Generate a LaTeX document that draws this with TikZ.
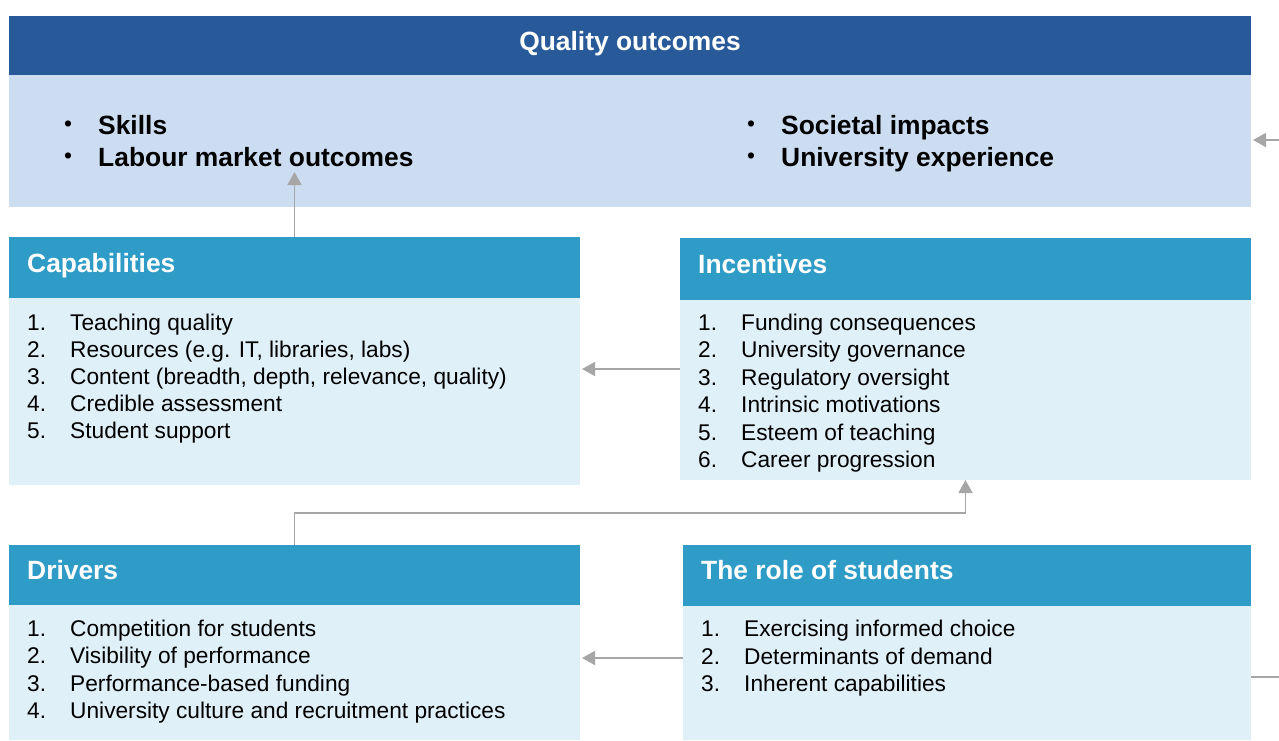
\documentclass[tikz,border=0pt]{standalone}
\usepackage{fontspec}
\setmainfont{Liberation Sans}
\usetikzlibrary{arrows.meta}
\definecolor{dkblue}{HTML}{285A9A}
\definecolor{ltblue}{HTML}{CCDDF2}
\definecolor{teal}{HTML}{2E9CC7}
\definecolor{ltteal}{HTML}{DFF0F8}
\definecolor{arrgray}{HTML}{A6A6A6}
\begin{document}
\begin{tikzpicture}[x=1pt,y=-1pt,
  box/.style={rectangle,inner sep=0pt,outer sep=0pt,anchor=north west,draw=none},
  bigtxt/.style={inner sep=0pt,font=\fontsize{26.4}{30}\selectfont\bfseries,text height=19pt,text depth=5pt,yshift=-2pt},
  hdrtxt/.style={bigtxt,text=white,anchor=west},
  itemtxt/.style={inner sep=0pt,anchor=west,font=\fontsize{22.7}{27}\selectfont,text height=16.3pt,text depth=4.8pt,yshift=-2pt},
  bullettxt/.style={bigtxt,anchor=west,text=black},
  bulletmark/.style={inner sep=0pt,anchor=center,font=\fontsize{22.7}{27}\selectfont,yshift=-1pt},
  arr/.style={draw=arrgray,line width=1.8pt,-{Triangle[length=13pt,width=14pt]}},
  plainline/.style={draw=arrgray,line width=1.8pt}]
\useasboundingbox (0,0) rectangle (1279,740);
% top block
\node[box,fill=dkblue,minimum width=1242pt,minimum height=59pt] (qhead) at (9,16) {};
\node[box,fill=ltblue,minimum width=1242pt,minimum height=132pt] (qbody) at (9,75) {};
\node[bigtxt,text=white] (qtitle) at (630,41) {Quality outcomes};
\node[bulletmark] (b1) at (68,125) {•};
\node[bullettxt] (q1) at (98,125) {Skills};
\node[bulletmark] (b2) at (68,157) {•};
\node[bullettxt] (q2) at (98,157) {Labour market outcomes};
\node[bulletmark] (b3) at (751,125) {•};
\node[bullettxt] (q3) at (781,125) {Societal impacts};
\node[bulletmark] (b4) at (751,157) {•};
\node[bullettxt] (q4) at (781,157) {University experience};
% capabilities
\node[box,fill=teal,minimum width=571pt,minimum height=61pt] (caphead) at (9,237) {};
\node[box,fill=ltteal,minimum width=571pt,minimum height=187pt] (capbody) at (9,298) {};
\node[hdrtxt] (capt) at (27,263) {Capabilities};
\node[itemtxt] (cn1) at (27,323) {1.}; \node[itemtxt] (c1) at (70,323) {Teaching quality};
\node[itemtxt] (cn2) at (27,350) {2.}; \node[itemtxt] (c2) at (70,350) {Resources (e.g. IT, libraries, labs)};
\node[itemtxt] (cn3) at (27,377) {3.}; \node[itemtxt] (c3) at (70,377) {Content (breadth, depth, relevance, quality)};
\node[itemtxt] (cn4) at (27,404) {4.}; \node[itemtxt] (c4) at (70,404) {Credible assessment};
\node[itemtxt] (cn5) at (27,431) {5.}; \node[itemtxt] (c5) at (70,431) {Student support};
% incentives
\node[box,fill=teal,minimum width=571pt,minimum height=62pt] (inchead) at (680,238) {};
\node[box,fill=ltteal,minimum width=571pt,minimum height=180pt] (incbody) at (680,300) {};
\node[hdrtxt] (inct) at (698,264) {Incentives};
\node[itemtxt] (in1) at (698,323) {1.}; \node[itemtxt] (i1) at (741,323) {Funding consequences};
\node[itemtxt] (in2) at (698,350) {2.}; \node[itemtxt] (i2) at (741,350) {University governance};
\node[itemtxt] (in3) at (698,378) {3.}; \node[itemtxt] (i3) at (741,378) {Regulatory oversight};
\node[itemtxt] (in4) at (698,405) {4.}; \node[itemtxt] (i4) at (741,405) {Intrinsic motivations};
\node[itemtxt] (in5) at (698,433) {5.}; \node[itemtxt] (i5) at (741,433) {Esteem of teaching};
\node[itemtxt] (in6) at (698,460) {6.}; \node[itemtxt] (i6) at (741,460) {Career progression};
% drivers
\node[box,fill=teal,minimum width=571pt,minimum height=60pt] (drvhead) at (9,545) {};
\node[box,fill=ltteal,minimum width=571pt,minimum height=135pt] (drvbody) at (9,605) {};
\node[hdrtxt] (drvt) at (27,570) {Drivers};
\node[itemtxt] (dn1) at (27,629) {1.}; \node[itemtxt] (d1) at (70,629) {Competition for students};
\node[itemtxt] (dn2) at (27,656) {2.}; \node[itemtxt] (d2) at (70,656) {Visibility of performance};
\node[itemtxt] (dn3) at (27,684) {3.}; \node[itemtxt] (d3) at (70,684) {Performance-based funding};
\node[itemtxt] (dn4) at (27,711) {4.}; \node[itemtxt] (d4) at (70,711) {University culture and recruitment practices};
% role of students
\node[box,fill=teal,minimum width=568pt,minimum height=61pt] (rolhead) at (683,545) {};
\node[box,fill=ltteal,minimum width=568pt,minimum height=134pt] (rolbody) at (683,606) {};
\node[hdrtxt] (rolt) at (701,570) {The role of students};
\node[itemtxt] (rn1) at (701,629) {1.}; \node[itemtxt] (r1) at (744,629) {Exercising informed choice};
\node[itemtxt] (rn2) at (701,657) {2.}; \node[itemtxt] (r2) at (744,657) {Determinants of demand};
\node[itemtxt] (rn3) at (701,684) {3.}; \node[itemtxt] (r3) at (744,684) {Inherent capabilities};
% helper coordinates
\coordinate (ytip) at (0,172);
\coordinate (yinc) at (0,369);
\coordinate (yrol) at (0,658);
\coordinate (ymid) at (0,513);
\coordinate (edgeTop) at (1279,140);
\coordinate (edgeBot) at (1279,677);
% connectors
\draw[arr] (caphead.north) -- (caphead.north |- ytip);
\draw[arr,shorten >=2pt] (incbody.west |- yinc) -- (capbody.east |- yinc);
\draw[arr,shorten >=2pt] (rolbody.west |- yrol) -- (drvbody.east |- yrol);
\draw[arr] (drvhead.north) -- (drvhead.north |- ymid) -- (incbody.south |- ymid) -- (incbody.south);
\draw[arr,shorten >=2pt] (edgeTop) -- (qbody.east |- edgeTop);
\draw[plainline] (rolbody.east |- edgeBot) -- (edgeBot);
\end{tikzpicture}
\end{document}
